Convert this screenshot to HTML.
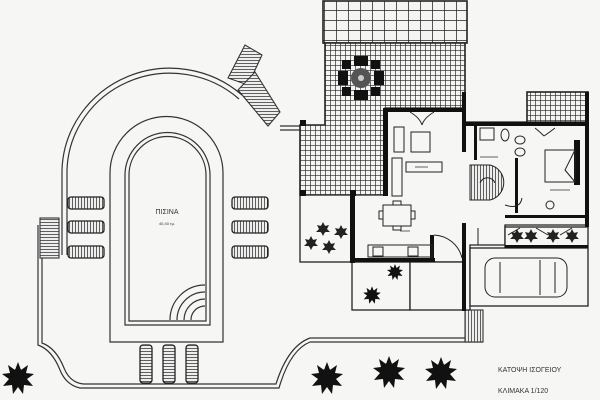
<!DOCTYPE html>
<html><head><meta charset="utf-8"><style>
html,body{margin:0;padding:0;background:#f6f6f4;}
svg{display:block}
text{font-family:"Liberation Sans",sans-serif;fill:#333}
</style></head><body>
<svg width="600" height="400" viewBox="0 0 600 400" xmlns="http://www.w3.org/2000/svg">
<defs>
<pattern id="g" width="5" height="5" patternUnits="userSpaceOnUse">
<rect width="5" height="5" fill="#f4f4f2"/><path d="M0 0H5M0 0V5" stroke="#222" stroke-width="1.3"/></pattern>
<pattern id="p" width="12" height="10" patternUnits="userSpaceOnUse">
<rect width="12" height="10" fill="#f4f4f2"/><path d="M0 0H12M0 0V10" stroke="#222" stroke-width="1.5"/></pattern>
<pattern id="l" width="4" height="3" patternUnits="userSpaceOnUse">
<rect width="4" height="3" fill="#eee"/><path d="M0 0H4" stroke="#222" stroke-width="1.4"/></pattern>
<pattern id="lv" width="3" height="4" patternUnits="userSpaceOnUse">
<rect width="3" height="4" fill="#eee"/><path d="M0 0V4" stroke="#222" stroke-width="1.4"/></pattern>
<g id="tree"><circle r="9" fill="#111"/>
<path d="M0-16L3-8 10-13 8-5 16-4 9 1 15 8 6 7 5 16 0 9-5 16-6 7-15 8-9 1-16-4-8-5-10-13-3-8Z" fill="#111"/></g>
<g id="bush"><circle r="4" fill="#222"/><path d="M0-7L2-3 6-4 4 0 7 3 2 3 0 7-2 3-7 3-4 0-6-4-2-3Z" fill="#222"/></g>
</defs>
<g fill="none" stroke="#333" stroke-width="1.2">
<path d="M62 255V170A108 105 0 0 1 242 95"/>
<path d="M67 255V170A103 100 0 0 1 239 99"/>
<path d="M280 126H300M280 130H300"/>
<path d="M38 225V345Q52 350 60 370Q66 385 80 388H279Q290 350 310 342H483"/>
<path d="M42 226V343Q56 348 64 368Q70 383 84 384H276Q288 346 310 338H465"/>
<path d="M110 342V173A56 56 0 0 1 223 173V342Z"/>
<path d="M125 325V175A42 42 0 0 1 210 175V325Z"/>
<path d="M129 321V175A38 38 0 0 1 206 175V321Z"/>
<path d="M170 320A35 35 0 0 1 205 285M177 320A28 28 0 0 1 205 292M184 320A21 21 0 0 1 205 299M191 320A14 14 0 0 1 205 306"/>
</g>
<g stroke="#333" stroke-width="1.1">
<rect x="40" y="218" width="19" height="40" fill="url(#l)"/>
<path d="M228 78L245 45 262 55 248 85Z" fill="url(#l)"/>
<path d="M238 90L255 72 280 112 268 126Z" fill="url(#l)"/>
<rect x="465" y="310" width="18" height="32" fill="url(#lv)"/>
</g>
<g stroke="#222" stroke-width="1.3" fill="url(#lv)">
<rect x="68" y="197" width="36" height="12" rx="3"/><rect x="68" y="221" width="36" height="12" rx="3"/><rect x="68" y="246" width="36" height="12" rx="3"/>
<rect x="232" y="197" width="36" height="12" rx="3"/><rect x="232" y="221" width="36" height="12" rx="3"/><rect x="232" y="246" width="36" height="12" rx="3"/>
</g>
<g stroke="#222" stroke-width="1.3" fill="url(#l)">
<rect x="140" y="345" width="12" height="38" rx="3"/><rect x="163" y="345" width="12" height="38" rx="3"/><rect x="186" y="345" width="12" height="38" rx="3"/>
</g>
<text x="167" y="214" font-size="7" text-anchor="middle">ΠΙΣΙΝΑ</text>
<text x="167" y="225" font-size="4" text-anchor="middle">40,40 τμ.</text>
<g stroke="#222" stroke-width="1.6">
<rect x="323" y="1" width="144" height="42" fill="url(#p)"/>
<path d="M325 43H465V110H385V195H300V125H325Z" fill="url(#g)"/>
<rect x="527" y="92" width="61" height="31" fill="url(#g)"/>
</g>
<g fill="#111"><circle cx="361" cy="78" r="10" fill="#555"/>
<rect x="354" y="56" width="14" height="10"/><rect x="354" y="90" width="14" height="10"/>
<rect x="338" y="71" width="10" height="14"/><rect x="374" y="71" width="10" height="14"/>
<rect x="342" y="60" width="9" height="9"/><rect x="371" y="60" width="9" height="9"/><rect x="342" y="87" width="9" height="9"/><rect x="371" y="87" width="9" height="9"/>
<circle cx="361" cy="78" r="3" fill="#ccc"/></g>
<g fill="#f6f6f4" stroke="#222" stroke-width="1.3">
<path d="M385 108H465V122H588V225H505V245H470V310H465V262H352V195H385Z"/>
<rect x="300" y="195" width="52" height="67"/>
<rect x="352" y="262" width="58" height="48"/><rect x="410" y="262" width="53" height="48"/>
<rect x="470" y="248" width="118" height="58"/>
<rect x="505" y="227" width="83" height="20"/>
</g>
<g fill="#111">
<rect x="383" y="108" width="5" height="88"/><rect x="383" y="108" width="80" height="4"/>
<rect x="462" y="92" width="4" height="60"/><rect x="462" y="122" width="126" height="4"/>
<rect x="585" y="92" width="4" height="135"/>
<rect x="350" y="193" width="5" height="70"/><rect x="350" y="258" width="85" height="4"/>
<rect x="430" y="235" width="4" height="25"/><rect x="462" y="223" width="4" height="88"/>
<rect x="300" y="120" width="6" height="6"/><rect x="300" y="190" width="6" height="6"/><rect x="350" y="190" width="6" height="6"/>
<rect x="505" y="215" width="83" height="3"/><rect x="505" y="245" width="83" height="3"/>
<rect x="515" y="158" width="3" height="55"/><rect x="474" y="123" width="3" height="37"/>
<rect x="574" y="140" width="6" height="45"/>
</g>
<g fill="none" stroke="#222" stroke-width="1">
<rect x="394" y="127" width="10" height="25"/><rect x="411" y="132" width="19" height="20"/><rect x="406" y="162" width="36" height="10"/>
<rect x="392" y="158" width="10" height="38"/>
<path d="M410 112Q420 118 422 125M434 112Q424 118 422 125"/>
<rect x="383" y="205" width="28" height="21"/><rect x="393" y="201" width="8" height="4"/><rect x="393" y="226" width="8" height="4"/><rect x="379" y="211" width="4" height="8"/><rect x="411" y="211" width="4" height="8"/>
<rect x="368" y="245" width="64" height="12"/><rect x="373" y="247" width="10" height="9"/><rect x="408" y="247" width="10" height="9"/>
<path d="M434 235A30 30 0 0 1 462 258"/>
<path d="M470 165H490A18 18 0 0 1 490 200H470Z" fill="url(#lv)"/>
<path d="M480 183A8 8 0 0 1 495 183"/>
<rect x="480" y="128" width="14" height="12"/><ellipse cx="505" cy="135" rx="4" ry="6"/>
<ellipse cx="520" cy="140" rx="5" ry="4"/><ellipse cx="520" cy="152" rx="5" ry="4"/>
<rect x="545" y="150" width="30" height="32"/><path d="M575 150L565 170 575 182"/>
<circle cx="550" cy="205" r="4"/><path d="M535 128Q540 132 544 136M555 128Q550 132 544 136"/>
<path d="M508 235L520 228M536 228L548 235M560 235L572 228"/>
<path d="M505 205Q520 210 522 198"/>
<rect x="485" y="258" width="82" height="39" rx="10"/><path d="M500 262V293M540 260V295M555 262V293"/>
<path d="M478 228V245H500"/>
</g>
<g fill="none" stroke="#333" stroke-width="0.8">
<path d="M415 167H428M400 231H410M550 190H570M480 157H498"/>
</g>
<use href="#tree" x="18" y="378"/><use href="#tree" x="327" y="378"/><use href="#tree" x="389" y="372"/><use href="#tree" x="441" y="373"/>
<g transform="translate(395 272) scale(0.5)"><use href="#tree"/></g>
<g transform="translate(372 295) scale(0.55)"><use href="#tree"/></g>
<use href="#bush" x="323" y="229"/><use href="#bush" x="341" y="232"/><use href="#bush" x="311" y="243"/><use href="#bush" x="329" y="247"/>
<use href="#bush" x="517" y="236"/><use href="#bush" x="531" y="236"/><use href="#bush" x="553" y="236"/><use href="#bush" x="572" y="236"/>
<text x="498" y="372" font-size="7">ΚΑΤΟΨΗ ΙΣΟΓΕΙΟΥ</text>
<text x="498" y="393" font-size="7">ΚΛΙΜΑΚΑ 1/120</text>
</svg>
</body></html>
